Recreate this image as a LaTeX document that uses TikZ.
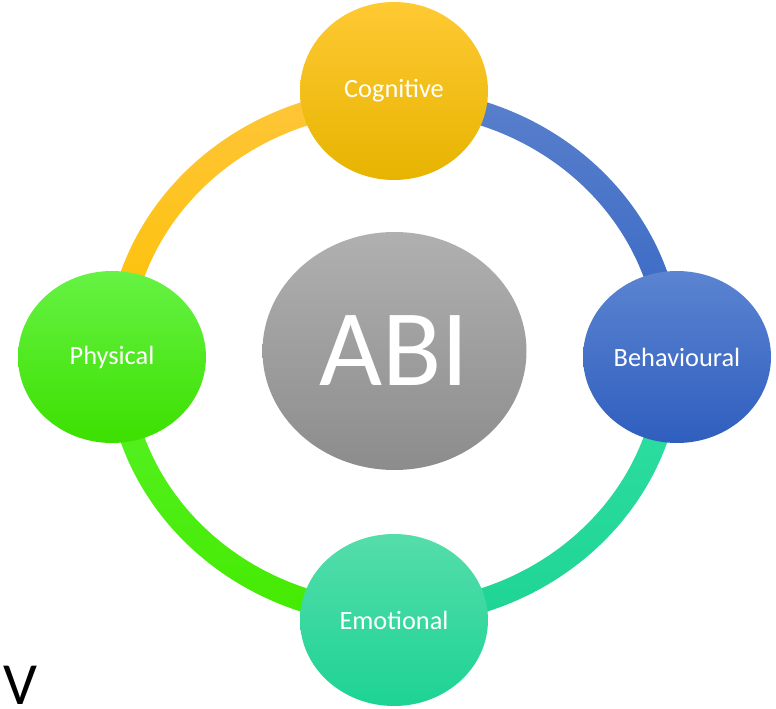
\documentclass[tikz,border=0pt]{standalone}
\usepackage{fontspec}
\setmainfont{Carlito}
\usetikzlibrary{shapes.geometric}

\definecolor{cogTop}{HTML}{FFC933}
\definecolor{cogBot}{HTML}{E6B400}
\definecolor{behTop}{HTML}{5B84D1}
\definecolor{behBot}{HTML}{2F5EBE}
\definecolor{phyTop}{HTML}{66F244}
\definecolor{phyBot}{HTML}{3CE000}
\definecolor{emoTop}{HTML}{55DDAA}
\definecolor{emoBot}{HTML}{1DD395}
\definecolor{abiTop}{HTML}{B0B0B0}
\definecolor{abiBot}{HTML}{8C8C8C}
% ring quarters
\definecolor{ringYa}{HTML}{FFC53A}
\definecolor{ringYb}{HTML}{FBC200}
\definecolor{ringBa}{HTML}{5A80CC}
\definecolor{ringBb}{HTML}{3566C4}
\definecolor{ringGa}{HTML}{58F22A}
\definecolor{ringGb}{HTML}{44EA00}
\definecolor{ringTa}{HTML}{30E0A4}
\definecolor{ringTb}{HTML}{1ED494}

\tikzset{
  bubble/.style={ellipse, minimum width=3.76cm, minimum height=3.44cm,
    inner sep=0pt, text=white, font=\fontsize{15}{17}\selectfont},
}

\begin{document}
\begin{tikzpicture}
\useasboundingbox (0,0) rectangle (15.52,14.16);
\coordinate (o) at (7.88,7.02);

\foreach \a/\b/\ct/\cb in {0/90/ringBa/ringBb, 90/180/ringYa/ringYb,
    180/270/ringGa/ringGb, 270/360/ringTa/ringTb}
  \shade[shift={(o)}, top color=\ct, bottom color=\cb]
    (\a:5.76 and 5.38) arc[start angle=\a, end angle=\b, x radius=5.76, y radius=5.38]
    -- (\b:5.28 and 4.90) arc[start angle=\b, end angle=\a, x radius=5.28, y radius=4.90]
    -- cycle;

\node[bubble, minimum height=3.56cm, top color=cogTop, bottom color=cogBot] (cog) at (7.88,12.34) {Cognitive};
\node[bubble, top color=behTop, bottom color=behBot] (beh) at (13.54,7.02) {Behavioural};
\node[bubble, top color=phyTop, bottom color=phyBot] (phy) at (2.24,7.02) {Physical};
\node[bubble, top color=emoTop, bottom color=emoBot] (emo) at (7.88,1.76) {Emotional};

\node[ellipse, minimum width=5.28cm, minimum height=4.76cm, inner sep=0pt,
  top color=abiTop, bottom color=abiBot, text=white,
  font=\fontsize{62}{62}\selectfont] (abi) at (7.89,7.14) {ABI};

\node[anchor=base west, inner sep=0pt, font=\fontsize{34}{34}\selectfont] (v) at (0.06,0.08) {V};
\end{tikzpicture}
\end{document}
